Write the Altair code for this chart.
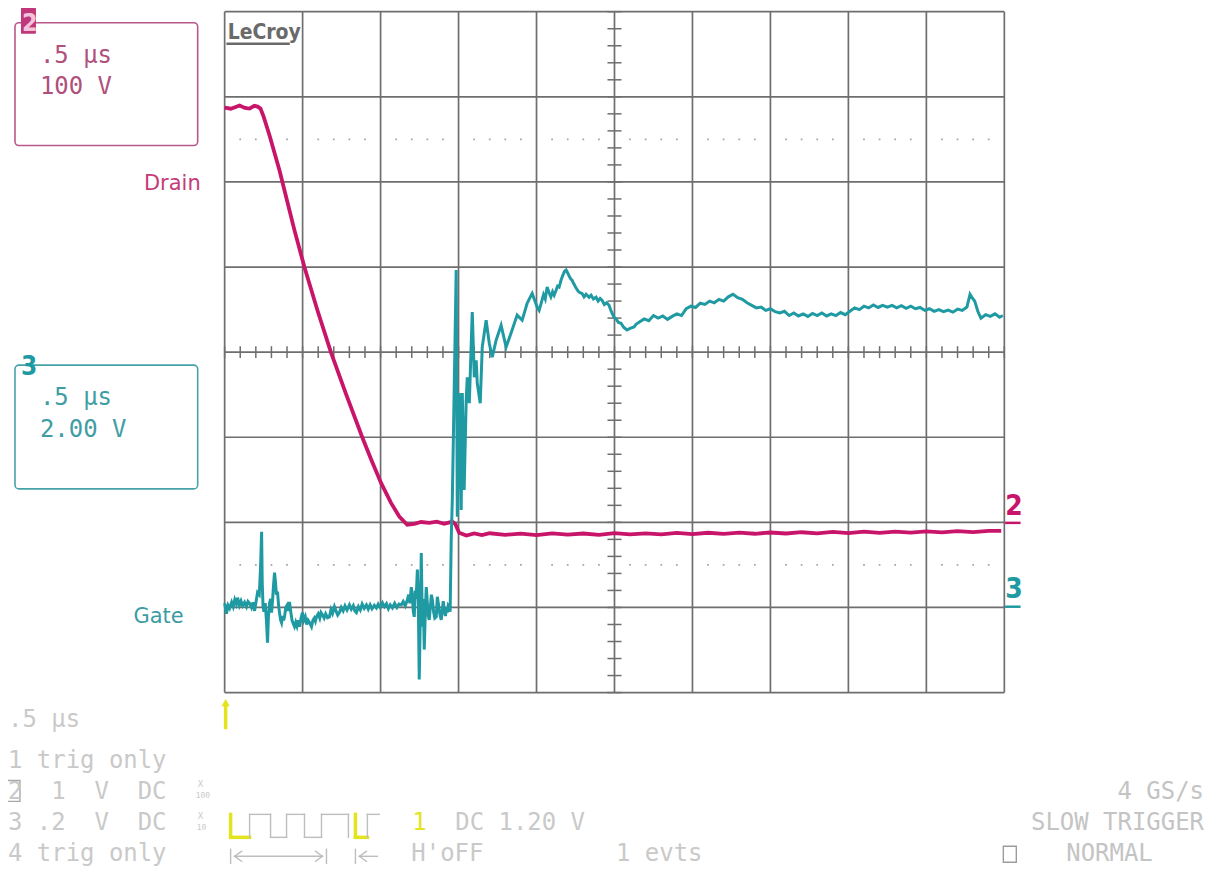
import altair as alt
import pandas as pd
import numpy as np

# ---------------- scope settings ----------------
T_PER_DIV = 0.5          # µs / div
CH2_V_PER_DIV = 100.0    # Drain, V / div
CH2_GND_DIV = 2.0        # ground marker position (div from bottom)
CH3_V_PER_DIV = 2.0      # Gate, V / div
CH3_GND_DIV = 1.0

drain_t = [0.000, 0.040, 0.096, 0.130, 0.160, 0.190, 0.211, 0.230, 0.250, 0.288, 0.352, 0.384, 0.448,
           0.512, 0.595, 0.683, 0.781, 0.885, 0.941, 1.003, 1.067, 1.120, 1.171,
           1.216, 1.260, 1.312, 1.360, 1.408, 1.460, 1.479, 1.504,
           1.55, 1.60, 1.65, 1.70, 1.80, 1.90, 2.00, 2.10, 2.20, 2.30, 2.40, 2.50,
           2.60, 2.70, 2.80, 2.90, 3.00, 3.10, 3.20, 3.30, 3.40, 3.50, 3.60, 3.70,
           3.80, 3.90, 4.00, 4.10, 4.20, 4.30, 4.40, 4.50, 4.60, 4.70, 4.80, 4.90, 4.98]
drain_v = [487.4, 486.0, 489.7, 487.0, 486.2, 489.5, 488.5, 486.2, 476.8, 454.5, 413.5, 390.0, 343.1,
           299.7, 249.2, 199.2, 149.6, 98.8, 73.3, 46.3, 22.9, 6.8, -2.9,
           -1.8, 0.4, -0.6, 0.8, -1.8, 0.9, -1.8, -12.3,
           -15.5, -13.0, -15.0, -12.8, -14.6, -13.2, -15.1, -12.9, -14.4, -13.1, -14.8, -12.6,
           -14.2, -12.9, -14.0, -12.4, -13.8, -12.2, -13.6, -12.0, -13.4, -11.9, -13.1, -11.6,
           -12.9, -11.3, -12.6, -11.0, -12.4, -10.8, -12.1, -10.5, -11.8, -10.2, -11.5, -9.9, -10.0]

gate_t = [0.000, 0.012, 0.022, 0.032, 0.045, 0.055, 0.065, 0.075, 0.083, 0.095,
          0.105, 0.115, 0.128, 0.140, 0.150, 0.160, 0.172, 0.182, 0.192, 0.200,
          0.211, 0.222, 0.230, 0.237, 0.241, 0.246, 0.252, 0.260, 0.268, 0.275,
          0.281, 0.288, 0.295, 0.301, 0.308, 0.314, 0.320, 0.326, 0.332, 0.339,
          0.346, 0.353, 0.359, 0.365, 0.372, 0.378, 0.384, 0.392, 0.400, 0.408,
          0.416, 0.424, 0.432, 0.440, 0.448, 0.456, 0.464, 0.472, 0.480, 0.490,
          0.499, 0.508, 0.517, 0.526, 0.535, 0.545, 0.557, 0.566, 0.575, 0.582,
          0.589, 0.600, 0.610, 0.618, 0.627, 0.638, 0.648, 0.660, 0.672, 0.682,
          0.692, 0.704, 0.714, 0.725, 0.736, 0.748, 0.760, 0.772, 0.785, 0.800,
          0.812, 0.825, 0.835, 0.845, 0.858, 0.870, 0.882, 0.895, 0.909, 0.921,
          0.933, 0.945, 0.960, 0.973, 0.985, 0.998, 1.012, 1.025, 1.038, 1.050,
          1.062, 1.076, 1.090, 1.105, 1.118, 1.133, 1.145, 1.158, 1.172, 1.180,
          1.188, 1.197, 1.205, 1.210, 1.216, 1.222, 1.228, 1.236, 1.242, 1.248,
          1.254, 1.261, 1.268, 1.274, 1.280, 1.287, 1.293, 1.300, 1.306, 1.312,
          1.320, 1.326, 1.332, 1.340, 1.348, 1.357, 1.364, 1.372, 1.380, 1.389,
          1.396, 1.402, 1.408, 1.416, 1.422, 1.428, 1.434, 1.440, 1.446, 1.453,
          1.460, 1.472, 1.485, 1.492, 1.504, 1.517, 1.524, 1.536, 1.549, 1.556,
          1.569, 1.588, 1.601, 1.613, 1.620, 1.639, 1.652, 1.677, 1.697, 1.716,
          1.741, 1.773, 1.805, 1.837, 1.876, 1.908, 1.940, 1.972,
          1.990, 2.005, 2.017, 2.030, 2.045, 2.056, 2.068, 2.080, 2.092, 2.103,
          2.113, 2.125, 2.135, 2.145, 2.158, 2.170, 2.180, 2.190, 2.200, 2.210,
          2.220, 2.228, 2.240, 2.252, 2.265, 2.278, 2.292, 2.305, 2.318, 2.337,
          2.350, 2.365, 2.382, 2.395, 2.408, 2.420, 2.435, 2.450, 2.465, 2.480,
          2.497, 2.510, 2.525, 2.542, 2.560, 2.580, 2.600, 2.625, 2.640,
          2.66, 2.69, 2.72, 2.75, 2.78, 2.81, 2.84, 2.87, 2.90, 2.93, 2.96, 2.99,
          3.02, 3.05, 3.08, 3.11, 3.14, 3.17, 3.20, 3.23, 3.26, 3.29, 3.32, 3.35,
          3.38, 3.41, 3.44, 3.47, 3.50, 3.53, 3.56, 3.59, 3.62, 3.65, 3.68, 3.71,
          3.74, 3.77, 3.80, 3.83, 3.86, 3.89, 3.92, 3.95, 3.98, 4.01, 4.04, 4.07,
          4.10, 4.13, 4.16, 4.19, 4.22, 4.25, 4.28, 4.31, 4.34, 4.37, 4.40, 4.43,
          4.46, 4.49, 4.52, 4.55, 4.58, 4.61, 4.64, 4.67, 4.70, 4.73, 4.76, 4.78,
          4.79, 4.81, 4.83, 4.85, 4.88, 4.91, 4.94, 4.97, 4.99]
gate_v = [0.10, -0.15, 0.05, -0.02, 0.12, 0.02, 0.18, 0.08, 0.23, 0.05,
          0.15, 0.04, 0.12, 0.02, 0.14, 0.10, 0.00, 0.12, -0.08, 0.10,
          0.35, 0.30, 0.90, 1.78, 0.60, 0.05, -0.10, 0.10, -0.30, -0.83,
          -0.20, 0.10, 0.20, -0.12, 0.20, 0.55, 0.82, 0.60, 0.30, 0.37,
          0.05, -0.15, -0.30, -0.36, -0.20, -0.30, -0.22, 0.00, 0.05, -0.08,
          0.13, -0.10, -0.30, -0.38, -0.45, -0.35, -0.44, -0.30, -0.45, -0.25,
          -0.12, -0.30, -0.22, -0.40, -0.30, -0.36, -0.45, -0.30, -0.25, -0.32,
          -0.22, -0.15, -0.25, -0.12, -0.17, -0.25, -0.15, -0.24, -0.22, -0.05,
          -0.14, 0.02, -0.08, -0.18, -0.12, 0.00, -0.08, 0.04, -0.06, 0.06,
          -0.04, 0.04, -0.08, -0.12, 0.02, -0.06, 0.08, -0.02, 0.06, -0.04,
          0.06, -0.03, 0.05, -0.01, 0.08, 0.00, 0.11, 0.02, 0.09, -0.03,
          0.06, -0.01, 0.10, 0.00, 0.08, 0.06, 0.14, 0.04, 0.18, 0.30,
          0.10, 0.48, 0.20, -0.10, -0.22, 0.40, 0.20, 0.89, 0.10, -1.69,
          -0.40, 1.28, -0.45, 0.20, -0.99, -0.10, 0.48, 0.10, -0.20, -0.29,
          0.05, 0.30, 0.18, -0.10, -0.25, -0.22, 0.25, 0.05, -0.15, -0.29,
          -0.05, 0.15, -0.05, -0.20, 0.00, -0.12, 0.05, 0.02, -0.10, 1.59,
          2.53, 5.11, 7.93, 2.13, 5.04, 2.29, 5.04, 2.76, 4.87, 5.41,
          4.80, 6.94, 5.41, 5.81, 5.27, 4.80, 6.12, 6.75, 6.21, 5.88,
          6.28, 6.63, 6.12, 6.45, 6.87, 6.75, 7.15, 7.38,
          7.20, 7.05, 6.98, 7.15, 7.35, 7.25, 7.53, 7.40, 7.30, 7.42,
          7.34, 7.45, 7.55, 7.53, 7.70, 7.82, 7.90, 7.93, 7.86, 7.78,
          7.72, 7.69, 7.60, 7.52, 7.44, 7.40, 7.38, 7.30, 7.36, 7.29,
          7.34, 7.25, 7.29, 7.20, 7.26, 7.22, 7.12, 7.16, 7.10, 6.95,
          6.82, 6.78, 6.70, 6.68, 6.58, 6.52, 6.56, 6.59, 6.66,
          6.71, 6.78, 6.74, 6.86, 6.80, 6.85, 6.77, 6.84, 6.90, 6.86, 7.02, 7.08,
          7.05, 7.15, 7.12, 7.20, 7.16, 7.24, 7.20, 7.30, 7.36, 7.28, 7.24, 7.16,
          7.10, 7.04, 7.06, 6.98, 7.02, 6.95, 6.92, 6.96, 6.86, 6.92, 6.85, 6.90,
          6.84, 6.91, 6.86, 6.92, 6.85, 6.90, 6.86, 6.93, 6.88, 6.96, 7.04, 7.00,
          7.08, 7.04, 7.11, 7.05, 7.10, 7.06, 7.10, 7.04, 7.09, 7.03, 7.08, 7.02,
          7.05, 6.98, 7.02, 6.96, 7.00, 6.95, 6.99, 6.94, 7.01, 6.98, 7.06, 7.36,
          7.30, 7.20, 6.96, 6.80, 6.88, 6.84, 6.90, 6.82, 6.86]

# ---------------- layout ----------------
W, H = 781, 682          # graticule: 10 x 8 divisions
X0, Y0 = 225, 11         # page position of the graticule origin
PINK = "#c8156a"
TEAL = "#1f9aa3"
GRID = "#6e6e6e"
LGRAY = "#c9c9c9"
YELLOW = "#e4e41e"
NB = "\u00a0"

xs = alt.Scale(domain=[0, 10 * T_PER_DIV], nice=False, zero=False)
ys = alt.Scale(domain=[0, 8], nice=False, zero=False)

drain = pd.DataFrame({"t": drain_t, "v": drain_v})
gate = pd.DataFrame({"t": gate_t, "v": gate_v})

# graticule
vgrid = pd.DataFrame({"t": np.arange(0, 11) * T_PER_DIV})
hgrid = pd.DataFrame({"d": np.arange(0, 9)})
htick = pd.DataFrame({"t": np.arange(0, 51) * T_PER_DIV / 5})
vtick = pd.DataFrame({"d": np.arange(0, 41) * 0.2})
dk = [k for k in range(51) if k % 5 != 0]
dots = pd.DataFrame({"t": [k * T_PER_DIV / 5 for k in dk] * 2,
                     "d": [1.5] * len(dk) + [6.5] * len(dk)})

layers = []
layers.append(alt.Chart(vgrid).mark_rule(color=GRID, strokeWidth=1.7).encode(
    x=alt.X("t:Q", scale=xs, axis=None)))
layers.append(alt.Chart(hgrid).mark_rule(color=GRID, strokeWidth=1.7).encode(
    y=alt.Y("d:Q", scale=ys, axis=None)))
layers.append(alt.Chart(htick).transform_calculate(a="4 - 0.07", b="4 + 0.07").mark_rule(
    color=GRID, strokeWidth=1.5).encode(
    x=alt.X("t:Q", scale=xs, axis=None), y=alt.Y("a:Q", scale=ys, axis=None), y2="b:Q"))
layers.append(alt.Chart(vtick).transform_calculate(a="2.5 - 0.045", b="2.5 + 0.045").mark_rule(
    color=GRID, strokeWidth=1.5).encode(
    y=alt.Y("d:Q", scale=ys, axis=None), x=alt.X("a:Q", scale=xs, axis=None), x2="b:Q"))
layers.append(alt.Chart(dots).mark_square(color="#9a9a9a", size=3, opacity=0.9).encode(
    x=alt.X("t:Q", scale=xs, axis=None), y=alt.Y("d:Q", scale=ys, axis=None)))

# traces
layers.append(alt.Chart(drain).transform_calculate(
    d=f"datum.v / {CH2_V_PER_DIV} + {CH2_GND_DIV}").mark_line(
    color=PINK, strokeWidth=3.8, strokeJoin="miter").encode(
    x=alt.X("t:Q", scale=xs, axis=None), y=alt.Y("d:Q", scale=ys, axis=None), order="t:Q"))
layers.append(alt.Chart(gate).transform_calculate(
    d=f"datum.v / {CH3_V_PER_DIV} + {CH3_GND_DIV}").mark_line(
    color=TEAL, strokeWidth=3.0, strokeJoin="miter").encode(
    x=alt.X("t:Q", scale=xs, axis=None), y=alt.Y("d:Q", scale=ys, axis=None), order="t:Q"))

# ---------------- decorations (page pixel coordinates) ----------------
def P(df):
    df = pd.DataFrame(df)
    for c in ("x", "x2"):
        if c in df:
            df[c] = df[c] - X0
    for c in ("y", "y2"):
        if c in df:
            df[c] = df[c] - Y0
    return df

def texts(rows, font, weight="normal", align="left"):
    df = P({"x": [r[0] for r in rows], "y": [r[1] for r in rows],
            "s": [r[2] for r in rows], "c": [r[3] for r in rows],
            "fs": [r[4] for r in rows]})
    return alt.Chart(df).mark_text(font=font, fontWeight=weight, align=align,
                                   baseline="alphabetic").encode(
        x=alt.X("x:Q", scale=None, axis=None), y=alt.Y("y:Q", scale=None, axis=None),
        text="s:N", color=alt.Color("c:N", scale=None),
        size=alt.Size("fs:Q", scale=None))

def segs(rows, width):
    df = P({"x": [r[0] for r in rows], "y": [r[1] for r in rows],
            "x2": [r[2] for r in rows], "y2": [r[3] for r in rows],
            "c": [r[4] for r in rows]})
    return alt.Chart(df).mark_rule(strokeWidth=width, strokeCap="square").encode(
        x=alt.X("x:Q", scale=None, axis=None), y=alt.Y("y:Q", scale=None, axis=None),
        x2="x2:Q", y2="y2:Q", color=alt.Color("c:N", scale=None))

def boxes(rows, width, radius, filled=False):
    df = P({"x": [r[0] for r in rows], "y": [r[1] for r in rows],
            "x2": [r[2] for r in rows], "y2": [r[3] for r in rows],
            "c": [r[4] for r in rows]})
    if filled:
        return alt.Chart(df).mark_rect(cornerRadius=radius).encode(
            x=alt.X("x:Q", scale=None, axis=None), y=alt.Y("y:Q", scale=None, axis=None),
            x2="x2:Q", y2="y2:Q", fill=alt.Color("c:N", scale=None))
    return alt.Chart(df).mark_rect(fillOpacity=0, strokeWidth=width,
                                   cornerRadius=radius).encode(
        x=alt.X("x:Q", scale=None, axis=None), y=alt.Y("y:Q", scale=None, axis=None),
        x2="x2:Q", y2="y2:Q", stroke=alt.Color("c:N", scale=None))

MONO = "DejaVu Sans Mono"
PINKT = "#b0507c"
TEALT = "#3f9da4"
GRAY2 = "#c4c4c4"
FS = 24
ROW2, ROW3, ROW4 = 800, 831, 862

layers.append(boxes([(15, 22, 198, 145, "#b8588a"), (15, 365, 198, 489, "#45a2a9")], 1.6, 4))
layers.append(boxes([(7, 781, 20, 802, "#a8a8a8"), (1005, 847, 1018, 863, "#9c9c9c")], 1.4, 0))
layers.append(boxes([(21, 7, 36, 33, "#c0377a")], 0, 1, filled=True))

layers.append(texts([
    (40, 62, ".5 µs", PINKT, 24), (40, 93, "100 V", PINKT, 24),
    (40, 405, ".5 µs", TEALT, 24), (40, 437, "2.00 V", TEALT, 24),
    (8, 727, ".5 µs", LGRAY, FS), (8, 769, "1 trig only", LGRAY, FS),
    (8, ROW2, f"2{NB}{NB}1{NB}{NB}V{NB}{NB}DC", LGRAY, FS),
    (8, ROW3, f"3{NB}.2{NB}{NB}V{NB}{NB}DC", LGRAY, FS),
    (8, ROW4, "4 trig only", LGRAY, FS), (456, ROW3, "DC 1.20 V", LGRAY, FS),
    (412, ROW4, "H'oFF", LGRAY, FS), (617, ROW4, "1 evts", LGRAY, FS),
    (1068, ROW4, "NORMAL", GRAY2, FS), (413, ROW3, "1", YELLOW, FS),
], MONO))
layers.append(texts([
    (1206, ROW2, "4 GS/s", GRAY2, FS), (1206, ROW3, "SLOW TRIGGER", GRAY2, FS),
], MONO, align="right"))
layers.append(texts([
    (198, 788, "X", LGRAY, 9), (196, 799, "100", LGRAY, 8),
    (198, 820, "X", LGRAY, 9), (197, 831, "10", LGRAY, 8),
], MONO))
layers.append(texts([
    (201, 190, "Drain", "#c43b78", 21), (184, 623, "Gate", "#3b9ca3", 21),
], "DejaVu Sans", align="right"))
layers.append(texts([
    (22, 30, "2", "#f3c3da", 25), (21, 375, "3", TEAL, 26),
    (1007, 515, "2", PINK, 28), (1007, 598, "3", TEAL, 28),
], "Liberation Sans Narrow, DejaVu Sans Condensed, sans-serif", weight="bold"))
layers.append(texts([(228, 38, "LeCroy", "#6a6a6a", 21)],
                    "DejaVu Sans Condensed, DejaVu Sans", weight="bold"))

layers.append(segs([
    (228, 43, 289, 43, "#6a6a6a"),
    (1008, 523, 1021, 523, PINK), (1008, 607, 1021, 607, TEAL),
], 2.5))

G = "#bdbdbd"
layers.append(segs([
    (231, 815, 231, 838, YELLOW), (231, 838, 250, 838, YELLOW),
    (356, 815, 356, 838, YELLOW), (356, 838, 368, 838, YELLOW),
    (226, 707, 226, 728, YELLOW),
], 3.5))
layers.append(segs([
    (250, 838, 250, 815, G), (250, 815, 271, 815, G), (271, 815, 271, 838, G),
    (271, 838, 287, 838, G), (287, 838, 287, 815, G), (287, 815, 305, 815, G),
    (305, 815, 305, 838, G), (305, 838, 322, 838, G), (322, 838, 322, 815, G),
    (322, 815, 349, 815, G), (349, 815, 349, 838, G),
    (368, 838, 368, 815, G), (368, 815, 380, 815, G),
    (231, 850, 231, 864, G), (235, 857, 323, 857, G), (235, 857, 242, 852, G),
    (235, 857, 242, 862, G), (323, 857, 316, 852, G), (323, 857, 316, 862, G),
    (327, 850, 327, 864, G),
    (356, 850, 356, 864, G), (360, 857, 378, 857, G), (360, 857, 367, 852, G),
    (360, 857, 367, 862, G),
], 1.4))
arrow = P({"x": [226], "y": [703]})
layers.append(alt.Chart(arrow).mark_point(shape="triangle-up", filled=True, size=70,
                                          color=YELLOW, opacity=1).encode(
    x=alt.X("x:Q", scale=None, axis=None), y=alt.Y("y:Q", scale=None, axis=None)))

chart = alt.layer(*layers).properties(
    width=W, height=H, autosize="none",
    padding={"left": X0 - 8, "top": Y0 - 8, "right": 200, "bottom": 177},
    background="white",
).configure_view(stroke=None)

chart.save("out.html", embed_options={"renderer": "svg", "actions": False})
